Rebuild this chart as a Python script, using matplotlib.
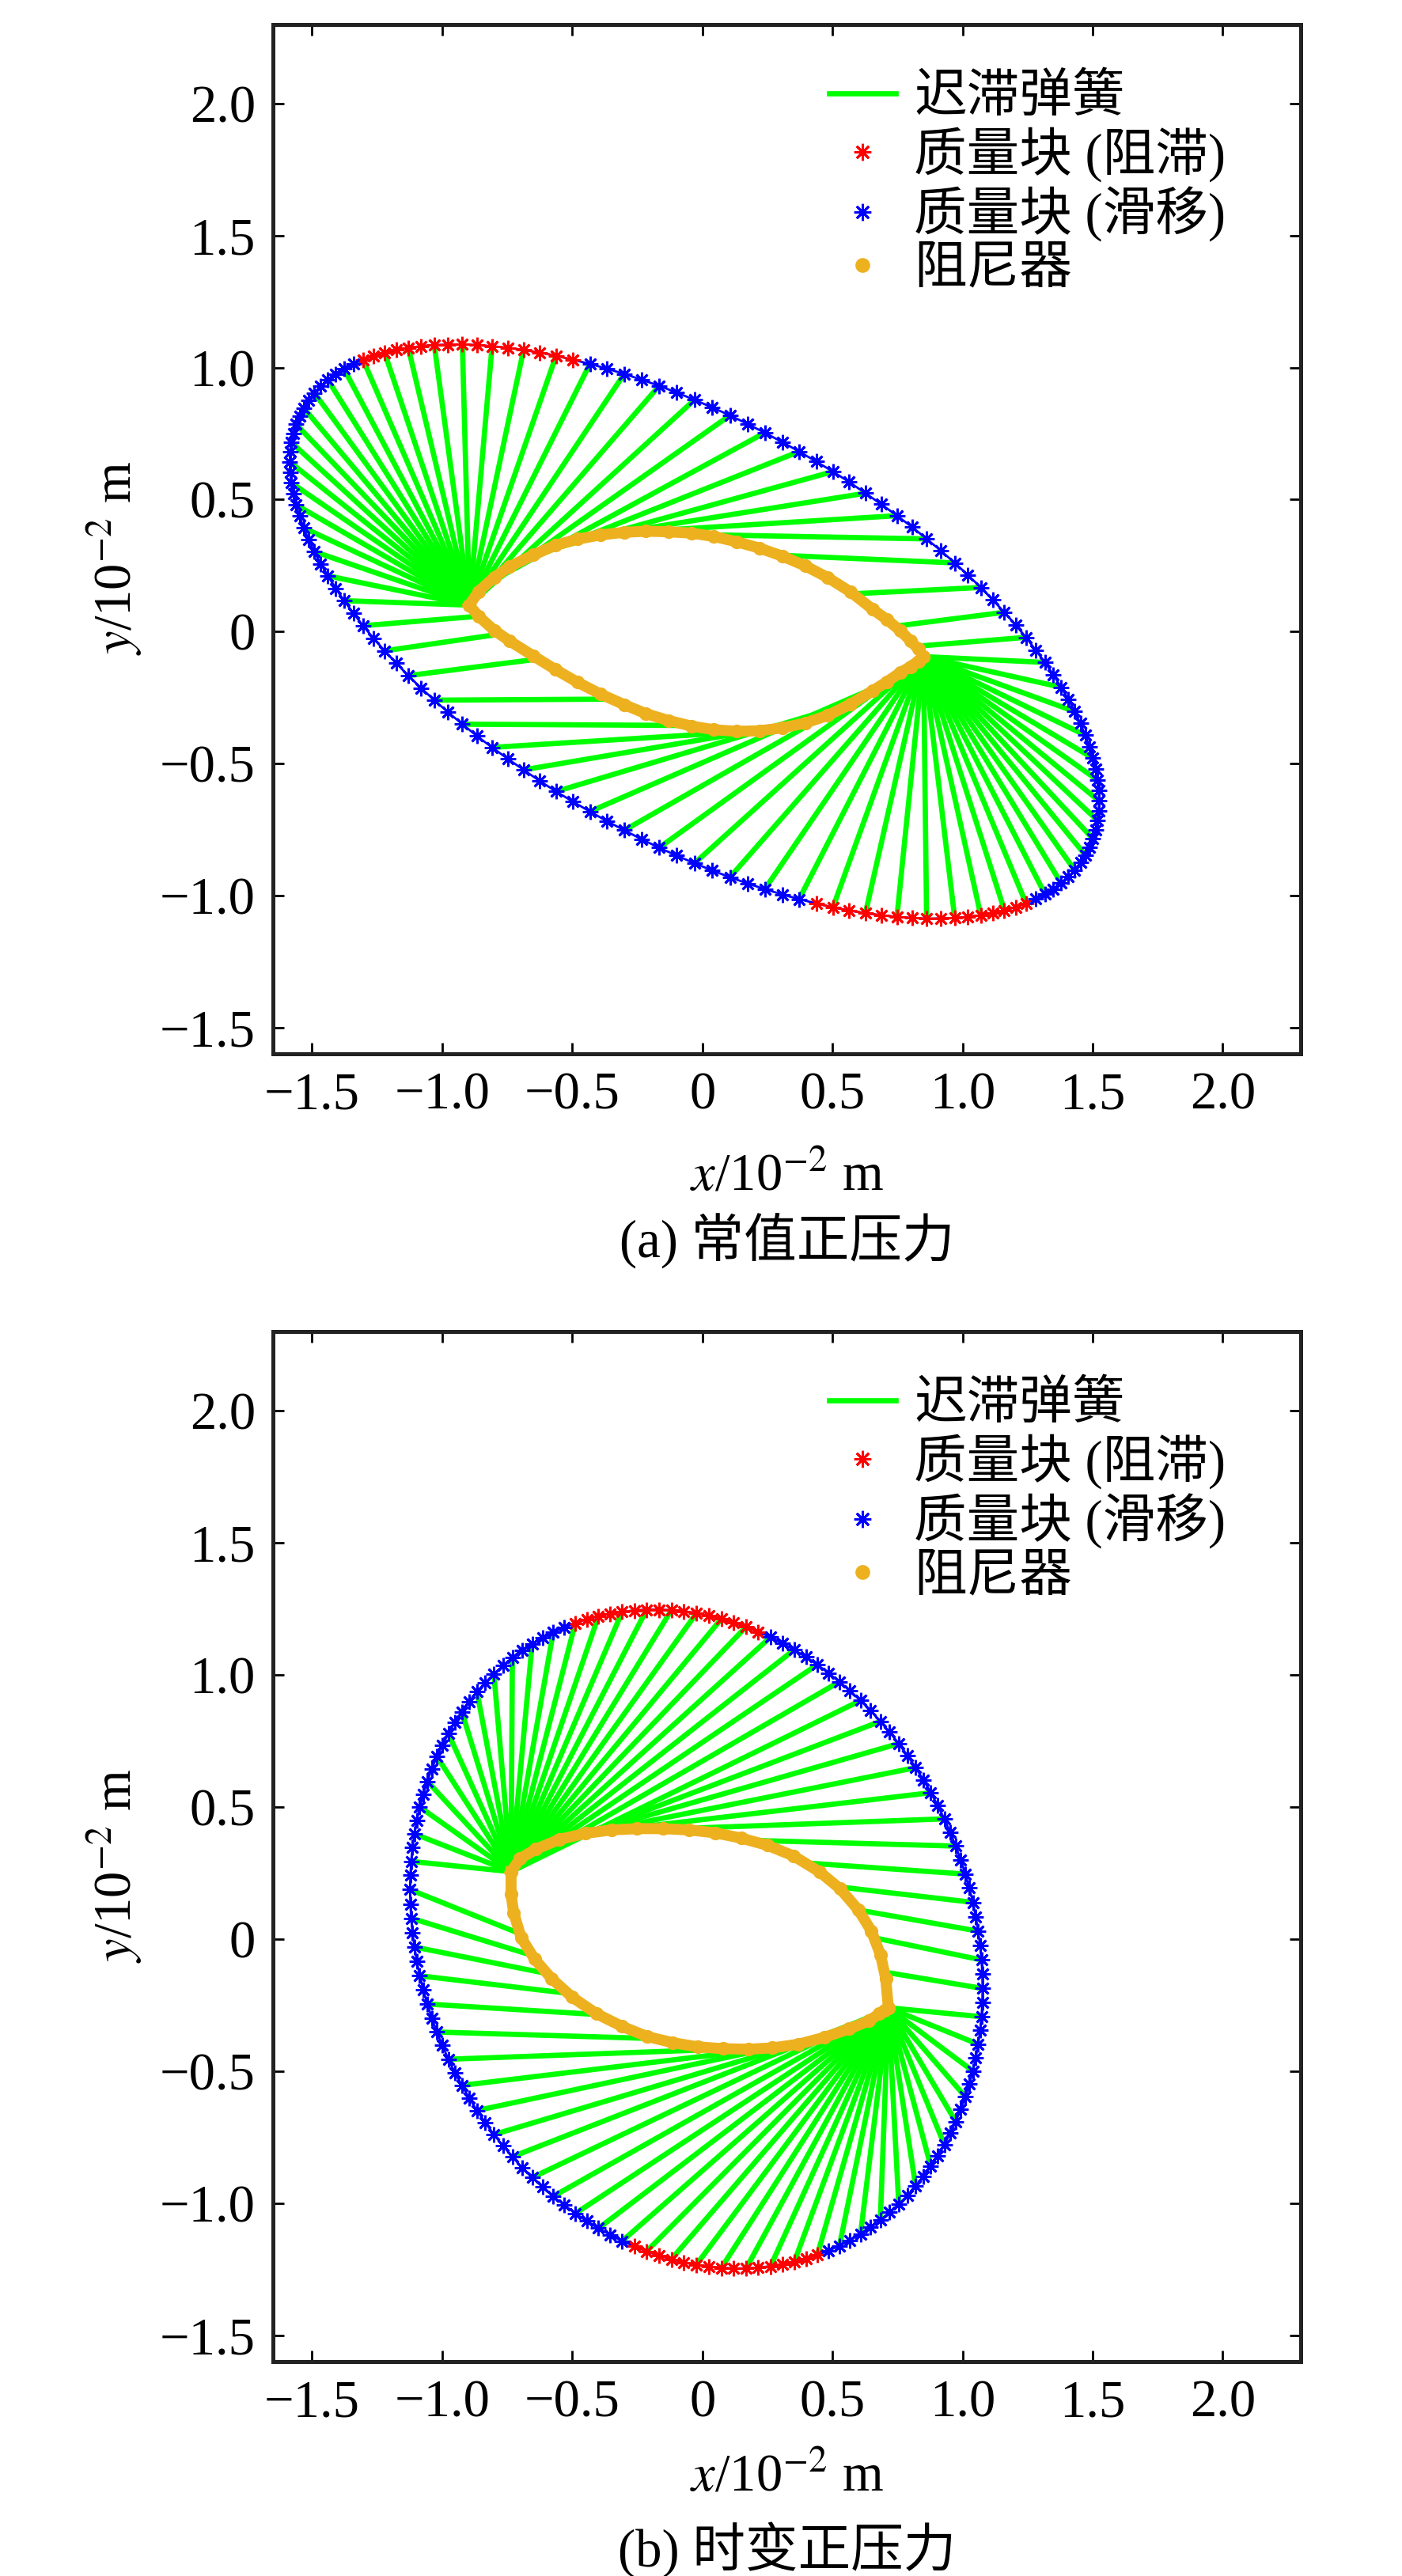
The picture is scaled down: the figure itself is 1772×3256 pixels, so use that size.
import numpy as np
import matplotlib
matplotlib.use('Agg')
import matplotlib.pyplot as plt

plt.rcParams['font.family'] = ['Liberation Serif', 'Noto Sans CJK SC']
plt.rcParams['mathtext.fontset'] = 'stix'
plt.rcParams['font.size'] = 24

# ---------------- (a) 常值正压力 ----------------
# mass block trajectory (one sample every few degrees of the loop)
mass_x_a = [-1.585, -1.583, -1.579, -1.572, -1.561, -1.548, -1.532, -1.513, -1.491, -1.467,
            -1.439, -1.409, -1.377, -1.341, -1.304, -1.264, -1.221, -1.176, -1.130, -1.081,
            -1.030, -0.977, -0.922, -0.866, -0.808, -0.748, -0.687, -0.625, -0.562, -0.498,
            -0.432, -0.367, -0.300, -0.233, -0.166, -0.098, -0.030, 0.038, 0.106, 0.173,
            0.240, 0.307, 0.372, 0.438, 0.502, 0.565, 0.627, 0.688, 0.748, 0.806,
            0.862, 0.917, 0.970, 1.021, 1.070, 1.116, 1.161, 1.204, 1.244, 1.281,
            1.317, 1.349, 1.379, 1.407, 1.431, 1.453, 1.472, 1.488, 1.501, 1.512,
            1.519, 1.523,
            1.525, 1.523, 1.519, 1.512, 1.501, 1.488, 1.472, 1.453, 1.431, 1.407,
            1.379, 1.349, 1.317, 1.281, 1.244, 1.204, 1.161, 1.116, 1.070, 1.021,
            0.970, 0.917, 0.862, 0.806, 0.748, 0.688, 0.627, 0.565, 0.502, 0.438,
            0.372, 0.307, 0.240, 0.173, 0.106, 0.038, -0.030, -0.098, -0.166, -0.233,
            -0.300, -0.367, -0.432, -0.498, -0.562, -0.625, -0.687, -0.748, -0.808, -0.866,
            -0.922, -0.977, -1.030, -1.081, -1.130, -1.176, -1.221, -1.264, -1.304, -1.341,
            -1.377, -1.409, -1.439, -1.467, -1.491, -1.513, -1.532, -1.548, -1.561, -1.572,
            -1.579, -1.583]
mass_y_a = [0.642, 0.680, 0.716, 0.751, 0.785, 0.817, 0.847, 0.876, 0.904, 0.929,
            0.953, 0.975, 0.995, 1.013, 1.030, 1.044, 1.056, 1.067, 1.075, 1.081,
            1.085, 1.087, 1.088, 1.085, 1.081, 1.075, 1.067, 1.057, 1.045, 1.030,
            1.014, 0.996, 0.976, 0.954, 0.931, 0.905, 0.878, 0.849, 0.819, 0.787,
            0.753, 0.718, 0.682, 0.644, 0.606, 0.566, 0.524, 0.482, 0.439, 0.396,
            0.351, 0.306, 0.260, 0.214, 0.167, 0.120, 0.073, 0.025, -0.022, -0.070,
            -0.117, -0.164, -0.211, -0.257, -0.303, -0.348, -0.393, -0.437, -0.480, -0.522,
            -0.563, -0.603,
            -0.642, -0.680, -0.716, -0.751, -0.785, -0.817, -0.847, -0.876, -0.904, -0.929,
            -0.953, -0.975, -0.995, -1.013, -1.030, -1.044, -1.056, -1.067, -1.075, -1.081,
            -1.085, -1.087, -1.088, -1.085, -1.081, -1.075, -1.067, -1.057, -1.045, -1.030,
            -1.014, -0.996, -0.976, -0.954, -0.931, -0.905, -0.878, -0.849, -0.819, -0.787,
            -0.753, -0.718, -0.682, -0.644, -0.606, -0.566, -0.524, -0.482, -0.439, -0.396,
            -0.351, -0.306, -0.260, -0.214, -0.167, -0.120, -0.073, -0.025, 0.022, 0.070,
            0.117, 0.164, 0.211, 0.257, 0.303, 0.348, 0.393, 0.437, 0.480, 0.522,
            0.563, 0.603]
# sample index ranges where the mass block is stuck (red)
stick_a = [(14, 29), (86, 101)]
# damper loop: upper and lower branch
upper_x_a = [-0.895, -0.86, -0.80, -0.74, -0.65, -0.566, -0.48, -0.391, -0.30, -0.217, -0.13, -0.043, 0.045,
             0.132, 0.22, 0.307, 0.395, 0.481, 0.57, 0.655, 0.71, 0.76, 0.80, 0.83, 0.85]
upper_y_a = [0.10, 0.152, 0.205, 0.246, 0.29, 0.326, 0.350, 0.366, 0.376, 0.380, 0.378, 0.373, 0.360,
             0.340, 0.316, 0.286, 0.249, 0.205, 0.150, 0.084, 0.045, 0.004, -0.035, -0.066, -0.095]
lower_x_a = [0.85, 0.83, 0.80, 0.76, 0.71, 0.655, 0.57, 0.481, 0.395, 0.307, 0.22, 0.132, 0.045,
             -0.043, -0.13, -0.217, -0.30, -0.391, -0.48, -0.566, -0.65, -0.74, -0.80, -0.86, -0.895]
lower_y_a = [-0.095, -0.112, -0.133, -0.156, -0.19, -0.224, -0.275, -0.318, -0.347, -0.365, -0.376, -0.378, -0.372,
             -0.358, -0.337, -0.311, -0.277, -0.237, -0.192, -0.143, -0.092, -0.036, 0.005, 0.058, 0.10]
# damper end of each spring (mass end is every 2nd mass sample)
spring_x_a = ([-0.895] * 19 + [-0.87, -0.83, -0.75, -0.63, -0.47, -0.27, 0.0, 0.30, 0.58, 0.74, 0.82]
              + [0.85] * 25 + [0.82, 0.78, 0.70, 0.58, 0.42, 0.22, -0.05, -0.35, -0.63, -0.78, -0.86]
              + [-0.895] * 6)
spring_y_a = ([0.10] * 19 + [0.14, 0.18, 0.242, 0.298, 0.352, 0.377, 0.367, 0.289, 0.143, 0.02, -0.056]
              + [-0.095] * 25 + [-0.119, -0.145, -0.197, -0.27, -0.339, -0.376, -0.356, -0.256, -0.104, -0.01, 0.058]
              + [0.10] * 6)

# ---------------- (b) 时变正压力 ----------------
mass_x_b = [-1.123, -1.122, -1.119, -1.114, -1.106, -1.097, -1.086, -1.072, -1.057, -1.039,
            -1.020, -0.999, -0.976, -0.951, -0.924, -0.896, -0.866, -0.834, -0.801, -0.766,
            -0.730, -0.693, -0.654, -0.614, -0.573, -0.531, -0.488, -0.444, -0.399, -0.354,
            -0.308, -0.261, -0.214, -0.167, -0.119, -0.071, -0.023, 0.025, 0.073, 0.121,
            0.168, 0.215, 0.262, 0.308, 0.353, 0.398, 0.442, 0.485, 0.527, 0.568,
            0.608, 0.647, 0.684, 0.720, 0.755, 0.788, 0.820, 0.850, 0.878, 0.905,
            0.930, 0.953, 0.974, 0.993, 1.011, 1.026, 1.040, 1.051, 1.060, 1.068,
            1.073, 1.076,
            1.077, 1.076, 1.073, 1.068, 1.060, 1.051, 1.040, 1.026, 1.011, 0.993,
            0.974, 0.953, 0.930, 0.905, 0.878, 0.850, 0.820, 0.788, 0.755, 0.720,
            0.684, 0.647, 0.608, 0.568, 0.527, 0.485, 0.442, 0.398, 0.353, 0.308,
            0.262, 0.215, 0.168, 0.121, 0.073, 0.025, -0.023, -0.071, -0.119, -0.167,
            -0.214, -0.261, -0.308, -0.354, -0.399, -0.444, -0.488, -0.531, -0.573, -0.614,
            -0.654, -0.693, -0.730, -0.766, -0.801, -0.834, -0.866, -0.896, -0.924, -0.951,
            -0.976, -0.999, -1.020, -1.039, -1.057, -1.072, -1.086, -1.097, -1.106, -1.114,
            -1.119, -1.122]
mass_y_b = [0.187, 0.241, 0.294, 0.346, 0.398, 0.449, 0.500, 0.549, 0.597, 0.645,
            0.691, 0.735, 0.778, 0.820, 0.860, 0.899, 0.936, 0.971, 1.004, 1.035,
            1.065, 1.092, 1.117, 1.140, 1.161, 1.180, 1.196, 1.211, 1.223, 1.232,
            1.239, 1.244, 1.247, 1.247, 1.245, 1.240, 1.233, 1.224, 1.212, 1.198,
            1.182, 1.163, 1.143, 1.120, 1.095, 1.068, 1.039, 1.007, 0.974, 0.939,
            0.903, 0.865, 0.824, 0.783, 0.740, 0.695, 0.649, 0.602, 0.554, 0.505,
            0.455, 0.403, 0.352, 0.299, 0.246, 0.193, 0.139, 0.084, 0.030, -0.025,
            -0.079, -0.133,
            -0.187, -0.241, -0.294, -0.346, -0.398, -0.449, -0.500, -0.549, -0.597, -0.645,
            -0.691, -0.735, -0.778, -0.820, -0.860, -0.899, -0.936, -0.971, -1.004, -1.035,
            -1.065, -1.092, -1.117, -1.140, -1.161, -1.180, -1.196, -1.211, -1.223, -1.232,
            -1.239, -1.244, -1.247, -1.247, -1.245, -1.240, -1.233, -1.224, -1.212, -1.198,
            -1.182, -1.163, -1.143, -1.120, -1.095, -1.068, -1.039, -1.007, -0.974, -0.939,
            -0.903, -0.865, -0.824, -0.783, -0.740, -0.695, -0.649, -0.602, -0.554, -0.505,
            -0.455, -0.403, -0.352, -0.299, -0.246, -0.193, -0.139, -0.084, -0.030, 0.025,
            0.079, 0.133]
stick_b = [(26, 41), (98, 113)]
upper_x_b = [-0.735, -0.70, -0.64, -0.55, -0.45, -0.35, -0.25, -0.15, -0.05, 0.05, 0.15, 0.25,
             0.35, 0.45, 0.53, 0.60, 0.65, 0.685, 0.705, 0.715]
upper_y_b = [0.255, 0.305, 0.34, 0.377, 0.400, 0.413, 0.418, 0.418, 0.413, 0.402, 0.382, 0.355,
             0.315, 0.255, 0.19, 0.11, 0.03, -0.06, -0.15, -0.26]
lower_x_b = [0.715, 0.70, 0.68, 0.64, 0.564, 0.47, 0.37, 0.27, 0.176, 0.08, -0.018, -0.115,
             -0.212, -0.31, -0.406, -0.50, -0.58, -0.645, -0.696, -0.725, -0.735, -0.735]
lower_y_b = [-0.26, -0.27, -0.283, -0.31, -0.340, -0.372, -0.398, -0.412, -0.417, -0.415, -0.408, -0.392,
             -0.369, -0.33, -0.283, -0.22, -0.149, -0.075, 0.005, 0.10, 0.17, 0.255]
spring_x_b = ([-0.70] + [-0.735] * 25 + [-0.70, -0.62, -0.50, -0.33, -0.12, 0.18, 0.40, 0.52, 0.60, 0.66, 0.70]
              + [0.715] * 25 + [0.69, 0.61, 0.49, 0.32, 0.11, -0.18, -0.40, -0.52, -0.60, -0.66])
spring_y_b = ([0.02] + [0.255] * 25 + [0.305, 0.352, 0.389, 0.414, 0.417, 0.374, 0.288, 0.198, 0.11, 0.005, -0.125]
              + [-0.26] * 25 + [-0.278, -0.325, -0.365, -0.406, -0.416, -0.377, -0.286, -0.205, -0.13, -0.06])

ticks = [-1.5, -1.0, -0.5, 0, 0.5, 1.0, 1.5, 2.0]
tick_labels = ['\u22121.5', '\u22121.0', '\u22120.5', '0', '0.5', '1.0', '1.5', '2.0']

GREEN = '#00ff00'
ORANGE = '#edb120'
STAR = (8, 2, 0)


def draw_panel(ax, mx, my, stick, sx, sy, ux, uy, lx, ly):
    mx = np.asarray(mx)
    my = np.asarray(my)
    red = np.zeros(len(mx), dtype=bool)
    for i0, i1 in stick:
        red[i0:i1 + 1] = True

    # springs: damper point -> mass point
    lines = ax.plot(np.vstack([sx, mx[::2]]), np.vstack([sy, my[::2]]),
                    color=GREEN, lw=2.4, zorder=1)
    lines[0].set_label('迟滞弹簧')

    # mass block
    ax.plot(np.append(mx, mx[0]), np.append(my, my[0]), color='b', lw=1.0, zorder=2)
    for i0, i1 in stick:
        ax.plot(mx[i0:i1 + 1], my[i0:i1 + 1], color='r', lw=1.0, zorder=2)
    ax.plot(mx[red], my[red], ls='none', marker=STAR, ms=7, mec='r', mew=1.0,
            label='质量块 (阻滞)', zorder=3)
    ax.plot(mx[~red], my[~red], ls='none', marker=STAR, ms=7, mec='b', mew=1.0,
            label='质量块 (滑移)', zorder=3)

    # damper
    dx = list(ux) + list(lx)
    dy = list(uy) + list(ly)
    ax.plot(dx, dy, color=ORANGE, lw=5.0, solid_joinstyle='round', zorder=4)
    ax.plot(dx, dy, ls='none', marker='o', ms=5.2, mfc=ORANGE, mec=ORANGE,
            label='阻尼器', zorder=4)

    ax.set_xlim(-1.65, 2.3)
    ax.set_ylim(-1.6, 2.3)
    ax.set_xticks(ticks, tick_labels)
    ax.set_yticks(ticks, tick_labels)
    ax.tick_params(direction='in', length=5, width=1.0, pad=8, top=True, right=True,
                   labelsize=24)
    for sp in ax.spines.values():
        sp.set_linewidth(1.8)
        sp.set_color('#222222')

    leg = ax.legend(loc='upper left', bbox_to_anchor=(0.541, 0.952), frameon=False,
                    fontsize=24, borderpad=0, borderaxespad=0, handlelength=1.26,
                    handletextpad=0.35, labelspacing=0.08, markerscale=1.1)
    return leg


fig = plt.figure(figsize=(8.86, 16.28), dpi=200)
ax_a = fig.add_axes([0.1947, 0.5909, 0.7331, 0.3996])
ax_b = fig.add_axes([0.1947, 0.0832, 0.7331, 0.3999])

draw_panel(ax_a, mass_x_a, mass_y_a, stick_a, spring_x_a, spring_y_a,
           upper_x_a, upper_y_a, lower_x_a, lower_y_a)
draw_panel(ax_b, mass_x_b, mass_y_b, stick_b, spring_x_b, spring_y_b,
           upper_x_b, upper_y_b, lower_x_b, lower_y_b)

xc = 0.5612
fig.text(xc, 0.5433, r'$x$/10$^{-2}$ m', ha='center', va='center', fontsize=24)
fig.text(xc, 0.5184, '(a) 常值正压力', ha='center', va='center', fontsize=24)
fig.text(0.0818, 0.7832, r'$y$/10$^{-2}$ m', ha='center', va='center', rotation=90, fontsize=24)

fig.text(xc, 0.0384, r'$x$/10$^{-2}$ m', ha='center', va='center', fontsize=24)
fig.text(xc, 0.0101, '(b) 时变正压力', ha='center', va='center', fontsize=24)
fig.text(0.0818, 0.2755, r'$y$/10$^{-2}$ m', ha='center', va='center', rotation=90, fontsize=24)

fig.savefig('out.png', dpi=200, facecolor='white')
